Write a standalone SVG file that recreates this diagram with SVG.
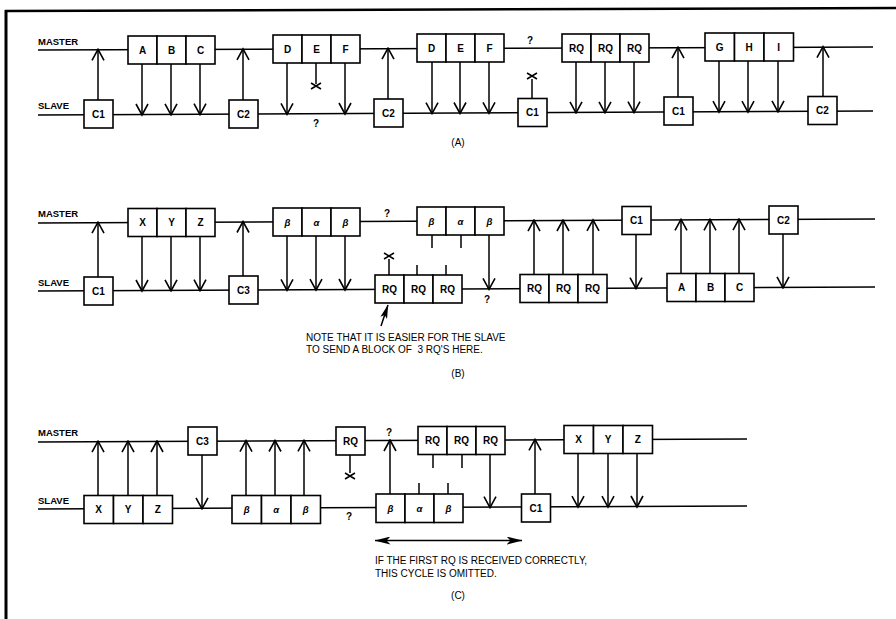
<svg xmlns="http://www.w3.org/2000/svg" width="896" height="619" viewBox="0 0 896 619">
<style>
.ln{stroke:#000;stroke-width:1.5;fill:none}
.ar{stroke:#000;stroke-width:1.5;fill:none;marker-end:url(#v)}
.bx{fill:#fff;stroke:#000;stroke-width:1.6}
.lb{font-family:"Liberation Sans",Arial,sans-serif;font-size:10px;font-weight:bold;text-anchor:middle;fill:#000}
.gr{font-family:"Liberation Sans",Arial,sans-serif;font-size:9.5px;font-weight:bold;font-style:italic;text-anchor:middle;fill:#000}
.hd{font-family:"Liberation Sans",Arial,sans-serif;font-size:9.5px;font-weight:bold;fill:#000}
.nt{font-family:"Liberation Sans",Arial,sans-serif;font-size:10px;fill:#000;white-space:pre}
.cp{font-family:"Liberation Sans",Arial,sans-serif;font-size:10px;text-anchor:middle;fill:#000}
</style>
<defs>
<marker id="v" viewBox="0 0 14 14" refX="12" refY="7" markerWidth="14" markerHeight="14" orient="auto" markerUnits="userSpaceOnUse"><path d="M1.5,1 L12.5,7 L1.5,13" fill="none" stroke="#000" stroke-width="1.6"/></marker>
<marker id="f" viewBox="0 0 16 8" refX="15.5" refY="4" markerWidth="16" markerHeight="8" orient="auto-start-reverse" markerUnits="userSpaceOnUse"><path d="M0,0 L16,4 L0,8 L4,4 z" fill="#000"/></marker>
<marker id="f2" viewBox="0 0 14 7" refX="13.5" refY="3.5" markerWidth="14" markerHeight="7" orient="auto" markerUnits="userSpaceOnUse"><path d="M0,0 L14,3.5 L0,7 L3,3.5 z" fill="#000"/></marker>
</defs>
<rect width="896" height="619" fill="#fff"/>
<g id="border">
<line x1="5" y1="11" x2="896" y2="8" stroke="#000" stroke-width="2.5"/>
<line x1="6" y1="10" x2="6" y2="619" stroke="#000" stroke-width="3"/>
</g>

<!-- ===== Section A ===== -->
<g id="A-lines">
<line class="ln" x1="38" y1="50" x2="873" y2="47"/>
<line class="ln" x1="38" y1="115" x2="873" y2="111"/>
<text class="hd" x="38" y="45">MASTER</text>
<text class="hd" x="38" y="109">SLAVE</text>
</g>
<g id="A-connectors">
<line class="ar" x1="98" y1="100" x2="98" y2="49.8"/>
<line class="ar" x1="142" y1="64" x2="142" y2="114.5"/>
<line class="ar" x1="171" y1="64" x2="171" y2="114.4"/>
<line class="ar" x1="200" y1="64" x2="200" y2="114.2"/>
<line class="ar" x1="243" y1="100" x2="243" y2="49.3"/>
<line class="ar" x1="287" y1="63" x2="287" y2="113.8"/>
<line class="ln" x1="316" y1="63" x2="316" y2="84"/>
<path class="ln" d="M311,83 L321,89 M311,89 L321,83"/>
<line class="ar" x1="345" y1="63" x2="345" y2="113.5"/>
<line class="ar" x1="388" y1="99" x2="388" y2="48.7"/>
<line class="ar" x1="432" y1="62" x2="432" y2="113.1"/>
<line class="ar" x1="460" y1="62" x2="460" y2="113"/>
<line class="ar" x1="489" y1="62" x2="489" y2="112.8"/>
<line class="ln" x1="532" y1="98.5" x2="532" y2="79"/>
<path class="ln" d="M527,73 L537,79 M527,79 L537,73"/>
<line class="ar" x1="576" y1="62" x2="576" y2="112.4"/>
<line class="ar" x1="605" y1="62" x2="605" y2="112.3"/>
<line class="ar" x1="634" y1="62" x2="634" y2="112.1"/>
<line class="ar" x1="678" y1="97" x2="678" y2="47.7"/>
<line class="ar" x1="719" y1="61" x2="719" y2="111.7"/>
<line class="ar" x1="748" y1="61" x2="748" y2="111.6"/>
<line class="ar" x1="778" y1="61" x2="778" y2="111.4"/>
<line class="ar" x1="823" y1="96.5" x2="823" y2="47.2"/>
<text class="lb" x="316" y="126.5">?</text>
<text class="lb" x="530" y="43.5">?</text>
</g>
<g id="A-C1a"><rect class="bx" x="84" y="100" width="29" height="28"/><text class="lb" x="98.5" y="117.6">C1</text></g>
<g id="A-ABC">
<rect class="bx" x="128" y="36" width="29" height="28"/><text class="lb" x="142.5" y="53.6">A</text>
<rect class="bx" x="157" y="36" width="29" height="28"/><text class="lb" x="171.5" y="53.6">B</text>
<rect class="bx" x="186" y="36" width="29" height="28"/><text class="lb" x="200.5" y="53.6">C</text>
</g>
<g id="A-C2a"><rect class="bx" x="229" y="100" width="29" height="28"/><text class="lb" x="243.5" y="117.6">C2</text></g>
<g id="A-DEF1">
<rect class="bx" x="273" y="35" width="29" height="28"/><text class="lb" x="287.5" y="52.6">D</text>
<rect class="bx" x="302" y="35" width="29" height="28"/><text class="lb" x="316.5" y="52.6">E</text>
<rect class="bx" x="331" y="35" width="29" height="28"/><text class="lb" x="345.5" y="52.6">F</text>
</g>
<g id="A-C2b"><rect class="bx" x="374" y="99" width="29" height="28"/><text class="lb" x="388.5" y="116.6">C2</text></g>
<g id="A-DEF2">
<rect class="bx" x="417" y="34" width="29" height="28"/><text class="lb" x="431.5" y="51.6">D</text>
<rect class="bx" x="446" y="34" width="29" height="28"/><text class="lb" x="460.5" y="51.6">E</text>
<rect class="bx" x="475" y="34" width="29" height="28"/><text class="lb" x="489.5" y="51.6">F</text>
</g>
<g id="A-C1c"><rect class="bx" x="518" y="98.5" width="29" height="28"/><text class="lb" x="532.5" y="116.1">C1</text></g>
<g id="A-RQ">
<rect class="bx" x="562" y="34" width="29" height="28"/><text class="lb" x="576.5" y="51.6">RQ</text>
<rect class="bx" x="591" y="34" width="29" height="28"/><text class="lb" x="605.5" y="51.6">RQ</text>
<rect class="bx" x="620" y="34" width="29" height="28"/><text class="lb" x="634.5" y="51.6">RQ</text>
</g>
<g id="A-C1d"><rect class="bx" x="664" y="97" width="29" height="28"/><text class="lb" x="678.5" y="114.6">C1</text></g>
<g id="A-GHI">
<rect class="bx" x="705" y="33" width="29.5" height="28"/><text class="lb" x="719.7" y="50.6">G</text>
<rect class="bx" x="734.5" y="33" width="29.5" height="28"/><text class="lb" x="749.2" y="50.6">H</text>
<rect class="bx" x="764" y="33" width="29.5" height="28"/><text class="lb" x="778.7" y="50.6">I</text>
</g>
<g id="A-C2c"><rect class="bx" x="808" y="96.5" width="29" height="28"/><text class="lb" x="822.5" y="114.1">C2</text></g>
<text class="cp" x="458" y="146">(A)</text>

<!-- ===== Section B ===== -->
<g id="B-lines">
<line class="ln" x1="38" y1="223" x2="875" y2="219"/>
<line class="ln" x1="38" y1="291" x2="875" y2="287"/>
<text class="hd" x="38" y="217">MASTER</text>
<text class="hd" x="38" y="286">SLAVE</text>
</g>
<g id="B-connectors">
<line class="ar" x1="98" y1="277" x2="98" y2="222.7"/>
<line class="ar" x1="142" y1="236.5" x2="142" y2="290.5"/>
<line class="ar" x1="171" y1="236.5" x2="171" y2="290.4"/>
<line class="ar" x1="200" y1="236.5" x2="200" y2="290.2"/>
<line class="ar" x1="243" y1="276" x2="243" y2="222"/>
<line class="ar" x1="287" y1="236" x2="287" y2="289.8"/>
<line class="ar" x1="316" y1="236" x2="316" y2="289.7"/>
<line class="ar" x1="345" y1="236" x2="345" y2="289.5"/>
<line class="ln" x1="432" y1="235" x2="432" y2="248"/>
<line class="ln" x1="461" y1="235" x2="461" y2="248"/>
<line class="ar" x1="489" y1="235" x2="489" y2="288.8"/>
<line class="ln" x1="389" y1="275" x2="389" y2="259"/>
<path class="ln" d="M384,253 L394,259 M384,259 L394,253"/>
<line class="ln" x1="417" y1="275" x2="417" y2="265"/>
<line class="ln" x1="446" y1="275" x2="446" y2="265"/>
<line x1="381" y1="326" x2="388" y2="305" stroke="#000" stroke-width="1.5" marker-end="url(#f2)"/>
<line class="ar" x1="534" y1="274.5" x2="534" y2="220.6"/>
<line class="ar" x1="563" y1="274.5" x2="563" y2="220.5"/>
<line class="ar" x1="593" y1="274.5" x2="593" y2="220.3"/>
<line class="ar" x1="636" y1="234.5" x2="636" y2="288.1"/>
<line class="ar" x1="681" y1="273.5" x2="681" y2="219.9"/>
<line class="ar" x1="710" y1="273.5" x2="710" y2="219.8"/>
<line class="ar" x1="739" y1="273.5" x2="739" y2="219.6"/>
<line class="ar" x1="783" y1="234" x2="783" y2="287.4"/>
<text class="lb" x="387" y="216.5">?</text>
<text class="lb" x="487" y="302.5">?</text>
</g>
<g id="B-C1"><rect class="bx" x="84" y="277" width="29" height="28"/><text class="lb" x="98.5" y="294.6">C1</text></g>
<g id="B-XYZ">
<rect class="bx" x="128" y="208.5" width="29" height="28"/><text class="lb" x="142.5" y="226.1">X</text>
<rect class="bx" x="157" y="208.5" width="29" height="28"/><text class="lb" x="171.5" y="226.1">Y</text>
<rect class="bx" x="186" y="208.5" width="29" height="28"/><text class="lb" x="200.5" y="226.1">Z</text>
</g>
<g id="B-C3"><rect class="bx" x="229" y="276" width="29" height="28"/><text class="lb" x="243.5" y="293.6">C3</text></g>
<g id="B-BAB1">
<rect class="bx" x="273" y="208" width="29" height="28"/><text class="gr" x="287.5" y="225.5">β</text>
<rect class="bx" x="302" y="208" width="29" height="28"/><text class="gr" x="316.5" y="225.5">α</text>
<rect class="bx" x="331" y="208" width="29" height="28"/><text class="gr" x="345.5" y="225.5">β</text>
</g>
<g id="B-BAB2">
<rect class="bx" x="417" y="207" width="29" height="28"/><text class="gr" x="431.5" y="224.5">β</text>
<rect class="bx" x="446" y="207" width="29" height="28"/><text class="gr" x="460.5" y="224.5">α</text>
<rect class="bx" x="475" y="207" width="29" height="28"/><text class="gr" x="489.5" y="224.5">β</text>
</g>
<g id="B-RQ1">
<rect class="bx" x="375" y="275" width="29" height="28"/><text class="lb" x="389.5" y="292.6">RQ</text>
<rect class="bx" x="404" y="275" width="29" height="28"/><text class="lb" x="418.5" y="292.6">RQ</text>
<rect class="bx" x="433" y="275" width="29" height="28"/><text class="lb" x="447.5" y="292.6">RQ</text>
</g>
<g id="B-note">
<text class="nt" x="306" y="341">NOTE THAT IT IS EASIER FOR THE SLAVE</text>
<text class="nt" x="306" y="353">TO SEND A BLOCK OF &#160;3 RQ'S HERE.</text>
</g>
<g id="B-RQ2">
<rect class="bx" x="520" y="274.5" width="29" height="28"/><text class="lb" x="534.5" y="292.1">RQ</text>
<rect class="bx" x="549" y="274.5" width="29" height="28"/><text class="lb" x="563.5" y="292.1">RQ</text>
<rect class="bx" x="578" y="274.5" width="29" height="28"/><text class="lb" x="592.5" y="292.1">RQ</text>
</g>
<g id="B-C1u"><rect class="bx" x="622" y="206.5" width="29" height="28"/><text class="lb" x="636.5" y="224.1">C1</text></g>
<g id="B-ABC">
<rect class="bx" x="667" y="273.5" width="29" height="28"/><text class="lb" x="681.5" y="291.1">A</text>
<rect class="bx" x="696" y="273.5" width="29" height="28"/><text class="lb" x="710.5" y="291.1">B</text>
<rect class="bx" x="725" y="273.5" width="29" height="28"/><text class="lb" x="739.5" y="291.1">C</text>
</g>
<g id="B-C2u"><rect class="bx" x="769" y="206" width="29" height="28"/><text class="lb" x="783.5" y="223.6">C2</text></g>
<text class="cp" x="458" y="377">(B)</text>

<!-- ===== Section C ===== -->
<g id="C-lines">
<line class="ln" x1="38" y1="442" x2="747" y2="439"/>
<line class="ln" x1="38" y1="509" x2="747" y2="506"/>
<text class="hd" x="38" y="436">MASTER</text>
<text class="hd" x="38" y="504">SLAVE</text>
</g>
<g id="C-connectors">
<line class="ar" x1="98" y1="495.5" x2="98" y2="441.7"/>
<line class="ar" x1="128" y1="495.5" x2="128" y2="441.6"/>
<line class="ar" x1="157" y1="495.5" x2="157" y2="441.5"/>
<line class="ar" x1="202" y1="455" x2="202" y2="508.3"/>
<line class="ar" x1="246" y1="495.5" x2="246" y2="441.1"/>
<line class="ar" x1="275" y1="495.5" x2="275" y2="441"/>
<line class="ar" x1="304" y1="495.5" x2="304" y2="440.9"/>
<line class="ln" x1="350" y1="455" x2="350" y2="473"/>
<path class="ln" d="M345,473 L355,479 M345,479 L355,473"/>
<line class="ar" x1="390" y1="494" x2="390" y2="440.5"/>
<line class="ln" x1="419" y1="494" x2="419" y2="483"/>
<line class="ln" x1="448" y1="494" x2="448" y2="483"/>
<line class="ln" x1="433" y1="454.5" x2="433" y2="468"/>
<line class="ln" x1="462" y1="454.5" x2="462" y2="468"/>
<line class="ar" x1="490" y1="454.5" x2="490" y2="507.1"/>
<line class="ar" x1="535" y1="494" x2="535" y2="439.9"/>
<line class="ar" x1="578" y1="453.5" x2="578" y2="506.7"/>
<line class="ar" x1="608" y1="453.5" x2="608" y2="506.6"/>
<line class="ar" x1="637" y1="453.5" x2="637" y2="506.5"/>
<line x1="375" y1="540.5" x2="522" y2="540.5" stroke="#000" stroke-width="1.5" marker-start="url(#f)" marker-end="url(#f)"/>
<text class="lb" x="349" y="519.5">?</text>
<text class="lb" x="389" y="435.5">?</text>
</g>
<g id="C-XYZ1">
<rect class="bx" x="84" y="495.5" width="29.5" height="28"/><text class="lb" x="98.7" y="513.1">X</text>
<rect class="bx" x="113.5" y="495.5" width="29.5" height="28"/><text class="lb" x="128.2" y="513.1">Y</text>
<rect class="bx" x="143" y="495.5" width="29.5" height="28"/><text class="lb" x="157.7" y="513.1">Z</text>
</g>
<g id="C-C3"><rect class="bx" x="188" y="427" width="29" height="28"/><text class="lb" x="202.5" y="444.6">C3</text></g>
<g id="C-BAB1">
<rect class="bx" x="232" y="495.5" width="29.5" height="28"/><text class="gr" x="246.7" y="513">β</text>
<rect class="bx" x="261.5" y="495.5" width="29.5" height="28"/><text class="gr" x="276.2" y="513">α</text>
<rect class="bx" x="291" y="495.5" width="29.5" height="28"/><text class="gr" x="305.7" y="513">β</text>
</g>
<g id="C-RQ1"><rect class="bx" x="336" y="427" width="29" height="28"/><text class="lb" x="350.5" y="444.6">RQ</text></g>
<g id="C-BAB2">
<rect class="bx" x="376" y="494" width="29" height="28.5"/><text class="gr" x="390.5" y="511.6">β</text>
<rect class="bx" x="405" y="494" width="29" height="28.5"/><text class="gr" x="419.5" y="511.6">α</text>
<rect class="bx" x="434" y="494" width="29" height="28.5"/><text class="gr" x="448.5" y="511.6">β</text>
</g>
<g id="C-RQ3">
<rect class="bx" x="418" y="426.5" width="29" height="28"/><text class="lb" x="432.5" y="444.1">RQ</text>
<rect class="bx" x="447" y="426.5" width="29" height="28"/><text class="lb" x="461.5" y="444.1">RQ</text>
<rect class="bx" x="476" y="426.5" width="29" height="28"/><text class="lb" x="490.5" y="444.1">RQ</text>
</g>
<g id="C-C1"><rect class="bx" x="521.5" y="494" width="29" height="28"/><text class="lb" x="536" y="511.6">C1</text></g>
<g id="C-XYZ2">
<rect class="bx" x="564" y="425.5" width="29.5" height="28"/><text class="lb" x="578.7" y="443.1">X</text>
<rect class="bx" x="593.5" y="425.5" width="29.5" height="28"/><text class="lb" x="608.2" y="443.1">Y</text>
<rect class="bx" x="623" y="425.5" width="29.5" height="28"/><text class="lb" x="637.7" y="443.1">Z</text>
</g>
<g id="C-note">
<text class="nt" x="375" y="564">IF THE FIRST RQ IS RECEIVED CORRECTLY,</text>
<text class="nt" x="375" y="577">THIS CYCLE IS OMITTED.</text>
</g>
<text class="cp" x="458" y="599">(C)</text>
</svg>
